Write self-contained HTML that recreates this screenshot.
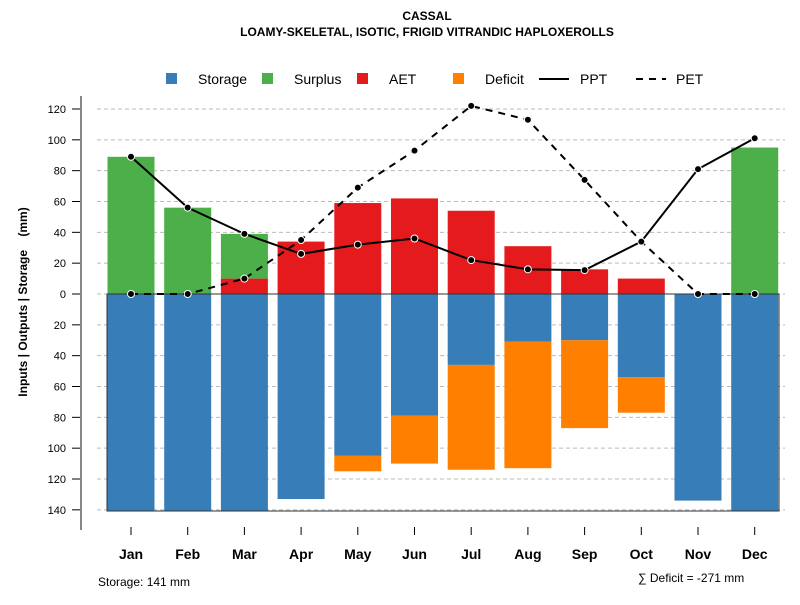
<!DOCTYPE html>
<html><head><meta charset="utf-8"><style>body{margin:0;background:#fff}svg{font-family:"Liberation Sans",sans-serif}</style></head>
<body>
<svg id="c" width="800" height="600">
<text x="427" y="20" text-anchor="middle" font-size="12" font-weight="bold">CASSAL</text>
<text x="427" y="36" text-anchor="middle" font-size="12" font-weight="bold">LOAMY-SKELETAL, ISOTIC, FRIGID VITRANDIC HAPLOXEROLLS</text>
<g font-size="14">
<rect x="166" y="73" width="11" height="11" fill="#377eb8"/><text x="198" y="84">Storage</text>
<rect x="262" y="73" width="11" height="11" fill="#4daf4a"/><text x="294" y="84">Surplus</text>
<rect x="357" y="73" width="11" height="11" fill="#e41a1c"/><text x="389" y="84">AET</text>
<rect x="453" y="73" width="11" height="11" fill="#ff7f00"/><text x="485" y="84">Deficit</text>
<line x1="539" y1="79" x2="569" y2="79" stroke="#000" stroke-width="2"/><text x="580" y="84">PPT</text>
<line x1="636" y1="79" x2="666" y2="79" stroke="#000" stroke-width="2" stroke-dasharray="7,6"/><text x="676" y="84">PET</text>
</g>
<text transform="translate(27,302) rotate(-90)" text-anchor="middle" font-size="12" font-weight="bold">Inputs | Outputs | Storage&#160;&#160;&#160;&#160;(mm)</text>
<text x="98" y="586" font-size="12">Storage: 141 mm</text>
<text x="638" y="582" font-size="12">∑ Deficit = -271 mm</text>
<g id="grid"></g><g id="bars"></g><g id="lines"></g><g id="axes"></g>
</svg>
<script>
const months=["Jan","Feb","Mar","Apr","May","Jun","Jul","Aug","Sep","Oct","Nov","Dec"];
const storage=[141,141,141,133,105,79,46,31,30,54,134,141];
const deficit=[0,0,0,0,10,31,68,82,57,23,0,0];
const aet=[0,0,10,34,59,62,54,31,16,10,0,0];
const surplus=[89,56,29,0,0,0,0,0,0,0,0,95];
const ppt=[89,56,39,26,32,36,22,16,15.5,34,81,101];
const pet=[0,0,10,35,69,93,122,113,74,34,0,0];
const yTicks=[120,100,80,60,40,20,0,-20,-40,-60,-80,-100,-120,-140];
const NS="http://www.w3.org/2000/svg";
const y=v=>294-v*1.5417;
const x=i=>131+i*56.7;
const bw=47;
function mk(t,a,p){const e=document.createElementNS(NS,t);for(const k in a)e.setAttribute(k,a[k]);document.getElementById(p).appendChild(e);return e;}
yTicks.forEach(v=>{
 const g=mk("line",{x1:97,x2:785,y1:y(v),y2:y(v),stroke:"#bbb","stroke-dasharray":"4,3"},"grid");
 
 
 const t=mk("line",{x1:72,x2:81,y1:y(v),y2:y(v),stroke:"#000"},"axes");
 
 
 const l=mk("text",{x:66,y:y(v)+4,"text-anchor":"end","font-size":"11"},"axes");l.textContent=Math.abs(v);
 
 
});
const ax=mk("line",{x1:81,x2:81,y1:96,y2:530,stroke:"#888","stroke-width":2},"axes");


function bar(i,v0,v1,c,n){const r=mk("rect",{x:x(i)-bw/2,y:Math.min(y(v0),y(v1)),width:bw,height:Math.abs(y(v0)-y(v1)),fill:c},"bars");
 
 }
months.forEach((m,i)=>{
 bar(i,0,-storage[i],"#377eb8","bar-storage-"+m.toLowerCase());
 if(deficit[i])bar(i,-storage[i],-storage[i]-deficit[i],"#ff7f00","bar-deficit-"+m.toLowerCase());
 if(aet[i])bar(i,0,aet[i],"#e41a1c","bar-aet-"+m.toLowerCase());
 if(surplus[i])bar(i,aet[i],aet[i]+surplus[i],"#4daf4a","bar-surplus-"+m.toLowerCase());
 const t=mk("line",{x1:x(i),x2:x(i),y1:527,y2:535,stroke:"#000"},"axes");
 
 
 const l=mk("text",{x:x(i),y:559,"text-anchor":"middle","font-size":"14","font-weight":"bold"},"axes");l.textContent=m;
 
 
});
const box=mk("rect",{x:107,y:294,width:672,height:217,fill:"none",stroke:"#333"},"bars");


function series(arr,dash,n){
 const p=mk("polyline",{points:arr.map((v,i)=>x(i)+","+y(v)).join(" "),fill:"none",stroke:"#000","stroke-width":2,"stroke-dasharray":dash},"lines");
 
 
 arr.forEach((v,i)=>{const c=mk("circle",{cx:x(i),cy:y(v),r:3.5,fill:"#000",stroke:"#fff","stroke-width":1},"lines");
 
 });
}
series(pet,"7,6","pet");
series(ppt,"none","ppt");
</script>
</body></html>
